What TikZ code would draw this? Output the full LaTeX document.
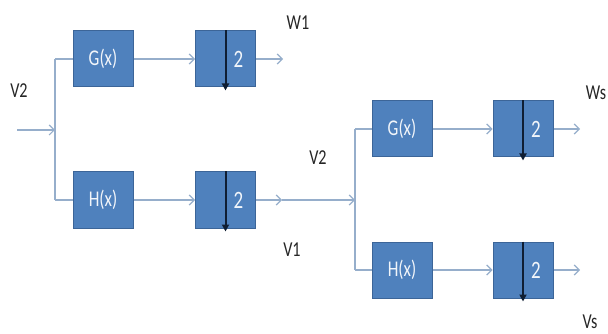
\documentclass[tikz,border=0pt]{standalone}
\usepackage{fontspec}
\setmainfont{Carlito}
\usetikzlibrary{arrows.meta}
\definecolor{boxfill}{HTML}{4F81BD}
\definecolor{boxedge}{HTML}{3C6598}
\definecolor{wire}{HTML}{96AECB}
\definecolor{dark}{HTML}{0F1E33}
\newcommand{\tall}[1]{\scalebox{0.95}[1.25]{#1}}
\tikzset{
  blk/.style={draw=boxedge, fill=boxfill, line width=1pt, minimum width=60pt, minimum height=56pt, inner sep=0pt, text=white!92!boxfill, font=\fontsize{18}{18}\selectfont},
  wireline/.style={draw=wire, line width=1.3pt},
  wirearrow/.style={wireline, -{Straight Barb[length=5pt,width=10pt,line width=1.2pt]}},
  lbl/.style={font=\fontsize{17}{17}\selectfont, text=black!85, inner sep=0pt},
  decarrow/.style={draw=dark, line width=2pt, -{Triangle[length=7pt,width=7pt]}}
}
\begin{document}
\begin{tikzpicture}[x=1pt,y=-1pt]
\useasboundingbox (0,0) rectangle (608,334);
% left stage
\node[blk] (g1) at (103,59) {\tall{G(x)}};
\node[blk] (d1) at (225.5,59) {};
\node[blk] (h1) at (103,200) {\tall{H(x)}};
\node[blk] (d2) at (225.5,200) {};
% right stage
\node[blk] (g2) at (402,129) {\tall{G(x)}};
\node[blk] (d3) at (523,129) {};
\node[blk] (h2) at (402,270) {\tall{H(x)}};
\node[blk] (d4) at (523,270) {};
% decimator contents
\foreach \d in {d1,d2,d3,d4}{
  \draw[decarrow] (\d.north) -- ([yshift=-3pt]\d.south);
  \node[text=white!92!boxfill, font=\fontsize{20}{20}\selectfont, inner sep=0pt] at ([xshift=13pt]\d.center) {\tall{2}};
}
% coordinates
\coordinate (in) at (17,130);
\coordinate (b1) at (55,130);
\coordinate (b1t) at (55,59);
\coordinate (b1b) at (55,200);
\coordinate (o1) at (283,59);
\coordinate (m1) at (282,200);
\coordinate (b2) at (355,200);
\coordinate (b2t) at (355,129);
\coordinate (b2b) at (355,270);
\coordinate (o3) at (580,129);
\coordinate (o4) at (580,270);
% wires
\draw[wirearrow] (in) -- (b1);
\draw[wireline] (b1t) -- (b1b);
\draw[wireline] (b1t) -- (g1.west);
\draw[wireline] (b1b) -- (h1.west);
\draw[wirearrow] (g1.east) -- (d1.west);
\draw[wirearrow] (h1.east) -- (d2.west);
\draw[wirearrow] (d1.east) -- (o1);
\draw[wirearrow] (d2.east) -- (m1);
\draw[wirearrow] (m1) -- (b2);
\draw[wireline] (b2t) -- (b2b);
\draw[wireline] (b2t) -- (g2.west);
\draw[wireline] (b2b) -- (h2.west);
\draw[wirearrow] (g2.east) -- (d3.west);
\draw[wirearrow] (h2.east) -- (d4.west);
\draw[wirearrow] (d3.east) -- (o3);
\draw[wirearrow] (d4.east) -- (o4);
% labels
\node[lbl] (lv2a) at (19,91) {\tall{V2}};
\node[lbl] (lw1) at (298,23) {\tall{W1}};
\node[lbl] (lv2b) at (318,158) {\tall{V2}};
\node[lbl] (lv1) at (292,250) {\tall{V1}};
\node[lbl] (lws) at (596,93) {\tall{Ws}};
\node[lbl] (lvs) at (590,322) {\tall{Vs}};
\end{tikzpicture}
\end{document}
